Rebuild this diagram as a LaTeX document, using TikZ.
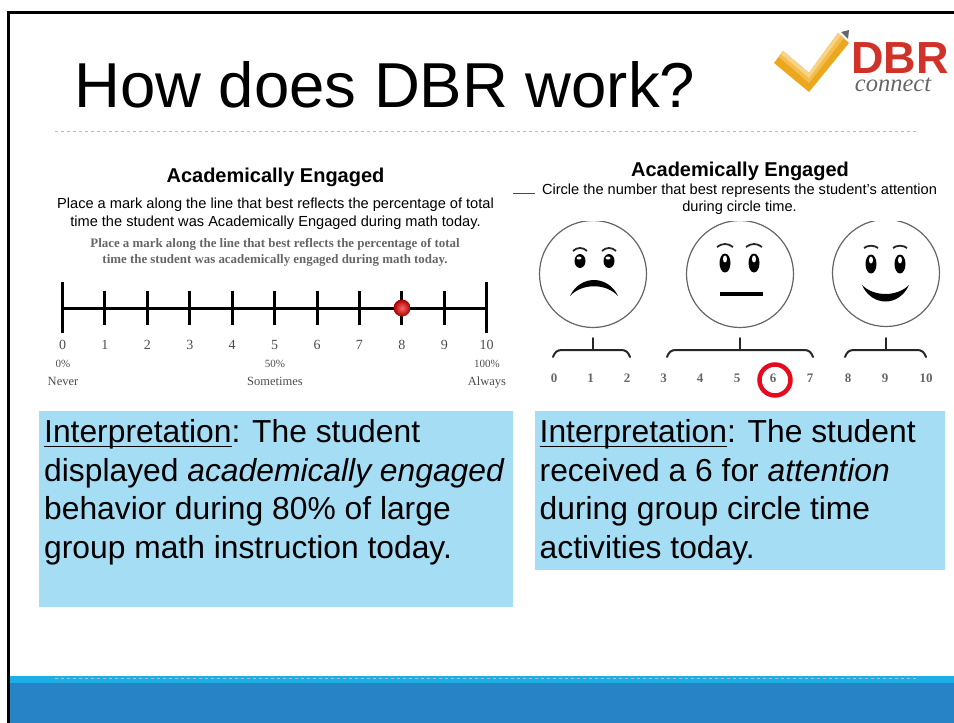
\documentclass[tikz,border=0pt]{standalone}
\usepackage{fontspec}
\usepackage{xcolor}
\setmainfont{Liberation Sans}
\newfontfamily\serifFace{Liberation Serif}
\definecolor{boxBlue}{HTML}{A5DDF5}
\definecolor{barLight}{HTML}{1EAEE6}
\definecolor{barDark}{HTML}{2882C6}
\definecolor{ruleGray}{HTML}{B4BEC8}
\definecolor{logoRed}{HTML}{D0322A}
\definecolor{logoGold}{HTML}{EBA71E}
\definecolor{logoMid}{HTML}{F4BE4E}
\definecolor{logoPale}{HTML}{F8D488}
\definecolor{markRed}{HTML}{E60A1E}
\newcommand{\myUnder}[1]{\underline{\raisebox{0pt}[0pt][3pt]{#1}}}
\tikzstyle{myText}=[inner sep=0pt, anchor=base, align=center]
\tikzstyle{myLeft}=[inner sep=0pt, anchor=base west, font=\fontsize{31.8}{38}\selectfont]
\tikzstyle{myHead}=[myText, font=\fontsize{20}{24}\selectfont\bfseries]
\tikzstyle{myNote}=[myText, font=\fontsize{14.6}{18}\selectfont]
\tikzstyle{myPrint}=[myText, text=black!60, font=\fontsize{12.9}{16}\serifFace\bfseries]
\tikzstyle{myNum}=[myText, text=black!70, font=\fontsize{14}{15}\serifFace]
\tikzstyle{myWord}=[myText, text=black!70, font=\fontsize{12.5}{15}\serifFace]
\tikzstyle{myPct}=[myText, text=black!70, font=\fontsize{11}{12}\serifFace]
\tikzstyle{myTick}=[line width=3pt, black]
\tikzstyle{myFace}=[draw=black!60, line width=1.2pt, fill=white, circle, minimum size=107pt, inner sep=0pt]
\tikzstyle{myBrace}=[line width=2pt, black!85, line cap=round]
\tikzstyle{myBrow}=[line width=1.8pt, black!85]
\tikzstyle{myBox}=[fill=boxBlue, inner sep=0pt, anchor=north west]

\begin{document}
\begin{tikzpicture}[x=1pt, y=-1pt]
   \useasboundingbox (0,0) rectangle (954,723);

   % Slide frame and footer
   \fill[barDark] (10,683) rectangle (954,723);
   \fill[barLight] (10,676) rectangle (954,683);
   \draw[ruleGray, dashed, line width=1pt] (55,678) -- (918,678);
   \draw[black, line width=2.5pt] (8.5,723) -- (8.5,12.5) -- (954,12.5);
   \draw[ruleGray, dashed, line width=1pt] (55,131) -- (918,131);

   \node[myLeft, font=\fontsize{63.5}{70}\selectfont] (title) at (74,107) {How does DBR work?};

   % Logo
   \fill[logoGold] (774,63) -- (783,51) -- (809,73) -- (838,33) -- (849,43) -- (809,92) -- cycle;
   \fill[logoMid] (779,57) -- (783,51) -- (809,73) -- (838,33) -- (844,38) -- (809,83) -- cycle;
   \fill[logoPale] (781,54) -- (783,51) -- (809,73) -- (838,33) -- (841,35) -- (809,78) -- cycle;
   \fill[black!60] (841,32) -- (849,30) -- (848,39) -- cycle;
   \node[myText, text=logoRed, font=\fontsize{45}{46}\selectfont\bfseries] (logoName) at (900,73.5) {DBR};
   \node[myText, text=black!60, font=\fontsize{24.5}{26}\serifFace\itshape] (logoSub) at (893,91) {connect};

   % Left column
   \node[myHead] (headL) at (275.5,182) {Academically Engaged};
   \node[myNote] (noteLa) at (275.5,208) {Place a mark along the line that best reflects the percentage of total};
   \node[myNote] (noteLb) at (275.5,226) {time the student was Academically Engaged during math today.};
   \node[myPrint] (printLa) at (275,247) {Place a mark along the line that best reflects the percentage of total};
   \node[myPrint] (printLb) at (275,263) {time the student was academically engaged during math today.};

   \draw[myTick] (62.5,308) -- (486.7,308);
   \draw[myTick] (62.5,282) -- (62.5,333);
   \draw[myTick] (486.7,282) -- (486.7,333);
   \foreach \n in {1,...,9} {
      \draw[myTick] ({62.5+42.42*\n},291) -- ({62.5+42.42*\n},325);
   }
   \foreach \n in {0,...,10} {
      \node[myNum] (numL\n) at ({62.5+42.42*\n},349) {\n};
   }
   \shade[inner color=red!60!white, outer color=red!65!black] (402,308) circle[radius=8.5pt];
   \node[myPct] (pctA) at (63,367) {0\%};
   \node[myPct] (pctB) at (275,367) {50\%};
   \node[myPct] (pctC) at (487,367) {100\%};
   \node[myWord] (wordA) at (63,385) {Never};
   \node[myWord] (wordB) at (275,385) {Sometimes};
   \node[myWord] (wordC) at (487,385) {Always};

   % Right column
   \draw[black!70, line width=0.7pt] (513,193) -- (535,193);
   \node[myHead] (headR) at (740,176) {Academically Engaged};
   \node[myNote] (noteRa) at (739.5,194) {Circle the number that best represents the student’s attention};
   \node[myNote] (noteRb) at (739.5,211) {during circle time.};

   \node[myFace] (faceA) at (593,274) {};
   \node[myFace] (faceB) at (740,274) {};
   \node[myFace] (faceC) at (886,273) {};
   \fill[white] (530,216) rectangle (954,221);

   % Sad face
   \foreach \x in {580,609} {
      \fill (\x,261) ellipse[x radius=5.5pt, y radius=7pt];
      \fill[white] (\x-1,258) ellipse[x radius=2.5pt, y radius=1.5pt];
      \draw[myBrow] (\x-7,251) .. controls (\x-3,247) and (\x+3,247) .. (\x+7,251);
   }
   \fill (570,296) .. controls (580,274.7) and (608,274.7) .. (618,296) .. controls (606,283) and (582,283) .. cycle;

   % Plain face
   \foreach \x in {725,754} {
      \fill (\x,263) ellipse[x radius=5.5pt, y radius=9.5pt];
      \fill[white] (\x,259) ellipse[x radius=2pt, y radius=3.5pt];
      \draw[myBrow] (\x-8,247) .. controls (\x-3,243) and (\x+3,243) .. (\x+8,247);
   }
   \draw[line width=4pt] (720,294) -- (763,294);

   % Happy face
   \foreach \x in {871,900} {
      \fill (\x,264) ellipse[x radius=5.5pt, y radius=9.5pt];
      \fill[white] (\x,260) ellipse[x radius=2pt, y radius=3.5pt];
      \draw[myBrow] (\x-7,248) .. controls (\x-3,245) and (\x+3,245) .. (\x+7,248);
   }
   \fill (862,285) .. controls (872,307) and (899,307) .. (909,285) .. controls (897,297) and (874,297) .. cycle;

   % Brackets over the numbers
   \draw[myBrace] (553,357) .. controls (555,352) and (557,350) .. (562,350) -- (621,350) .. controls (626,350) and (628,352) .. (630,357);
   \draw[myBrace] (593,338) -- (593,350);
   \draw[myBrace] (667,357) .. controls (669,352) and (671,350) .. (676,350) -- (804,350) .. controls (809,350) and (811,352) .. (813,357);
   \draw[myBrace] (740,338) -- (740,350);
   \draw[myBrace] (845,357) .. controls (847,352) and (849,350) .. (854,350) -- (917,350) .. controls (922,350) and (924,352) .. (926,357);
   \draw[myBrace] (886,338) -- (886,350);

   \foreach \x/\n in {554/0,590.5/1,627/2,663.5/3,700/4,737/5,773/6,810/7,848/8,885/9,926/10} {
      \node[myNum, text=black!60, font=\fontsize{13}{14}\serifFace\bfseries] (numR\n) at (\x,382.5) {\n};
   }
   \draw[markRed, line width=4.5pt] (775,380) circle[radius=15.5pt];

   % Interpretation boxes
   \node[myBox, minimum width=474pt, minimum height=196pt] (boxL) at (39,411) {};
   \node[myBox, minimum width=410pt, minimum height=159pt] (boxR) at (535,411) {};
   \node[myLeft] (textLa) at (44,442) {\myUnder{Interpretation}: The student};
   \node[myLeft] (textLb) at (44,481) {displayed \textit{academically engaged}};
   \node[myLeft] (textLc) at (44,519) {behavior during 80\% of large};
   \node[myLeft] (textLd) at (44,558) {group math instruction today.};
   \node[myLeft] (textRa) at (539.5,442) {\myUnder{Interpretation}: The student};
   \node[myLeft] (textRb) at (539.5,481) {received a 6 for \textit{attention}};
   \node[myLeft] (textRc) at (539.5,519) {during group circle time};
   \node[myLeft] (textRd) at (539.5,558) {activities today.};

\end{tikzpicture}
\end{document}
